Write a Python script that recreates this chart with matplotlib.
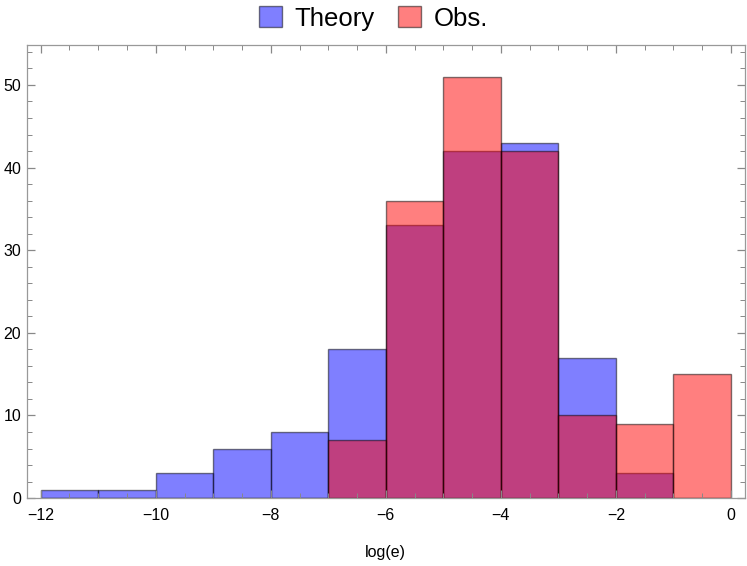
import numpy as np
import matplotlib.pyplot as plt
from matplotlib.ticker import MultipleLocator

plt.rcParams['font.family'] = ['Liberation Sans', 'DejaVu Sans']

# Histogram bins (log(e)) and counts
bin_edges = [-12, -11, -10, -9, -8, -7, -6, -5, -4, -3, -2, -1, 0]
theory_counts = [1, 1, 3, 6, 8, 18, 33, 42, 43, 17, 3, 0]
obs_counts = [0, 0, 0, 0, 0, 7, 36, 51, 42, 10, 9, 15]

fig = plt.figure(figsize=(7.47, 5.66), dpi=100)
ax = fig.add_axes([0.036, 0.12, 0.961, 0.80])

lefts = np.array(bin_edges[:-1])
widths = np.diff(bin_edges)

ax.bar(lefts, theory_counts, width=widths, align='edge', color='blue', alpha=0.5,
       edgecolor=(0, 0, 0, 0.6), linewidth=1.0, label='Theory')
ax.bar(lefts, obs_counts, width=widths, align='edge', color='red', alpha=0.5,
       edgecolor=(0, 0, 0, 0.6), linewidth=1.0, label='Obs.')

ax.set_xlim(-12.24, 0.24)
ax.set_ylim(0, 54.8)
ax.xaxis.set_major_locator(MultipleLocator(2))
ax.xaxis.set_minor_locator(MultipleLocator(0.5))
ax.yaxis.set_major_locator(MultipleLocator(10))
ax.yaxis.set_minor_locator(MultipleLocator(2))
ax.tick_params(which='both', direction='in', top=True, right=True,
               color='#888888', labelsize=11.5)
ax.tick_params(which='major', length=6, width=0.9)
ax.tick_params(which='minor', length=3.5, width=0.7)
ax.tick_params(axis='x', pad=7)
ax.tick_params(axis='y', pad=4)
for s in ax.spines.values():
    s.set_color('#999999')
    s.set_linewidth(0.9)

ax.set_xlabel('log(e)', fontsize=11.5, labelpad=16)

fig.legend(loc='upper center', ncol=2, frameon=False, fontsize=18.5,
           bbox_to_anchor=(0.5, 1.03), handlelength=0.9, handleheight=0.9,
           handletextpad=0.5, columnspacing=0.9)

fig.savefig('out.png', dpi=100)
